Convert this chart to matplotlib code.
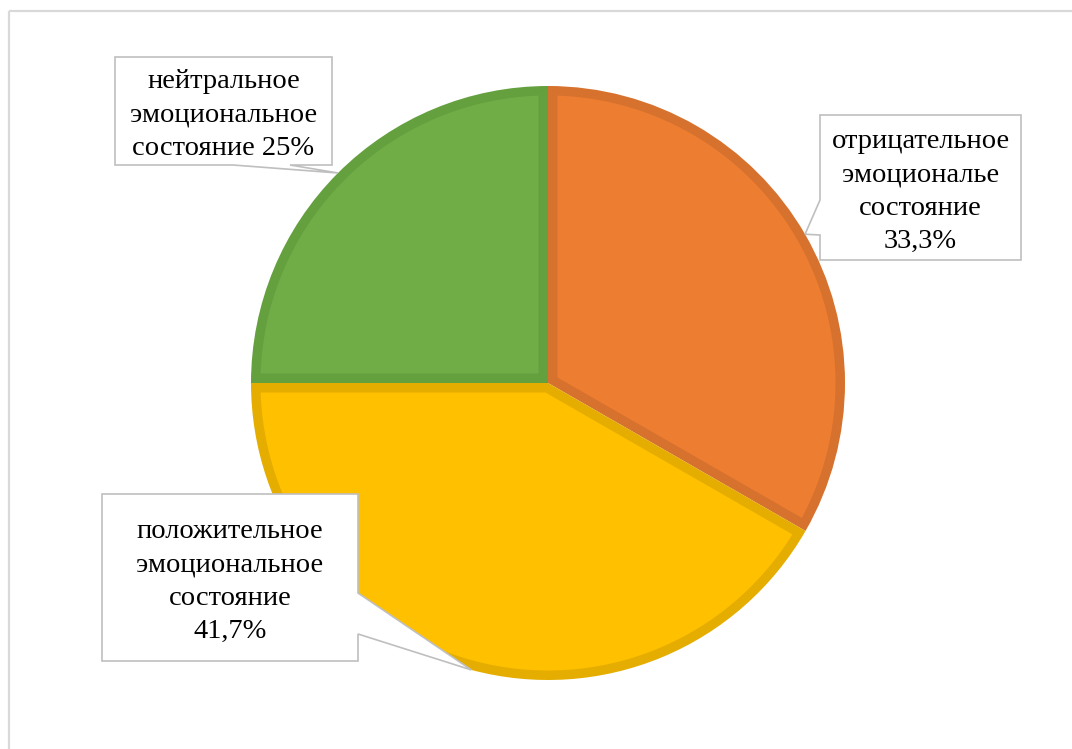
import matplotlib
matplotlib.use('Agg')
import matplotlib.pyplot as plt
import numpy as np
from matplotlib.patches import Polygon

W, H = 1072, 749

# data (clockwise from 12 o'clock)
labels = ['отрицательное\nэмоциональе\nсостояние\n33,3%',
          'положительное\nэмоциональное\nсостояние\n41,7%',
          'нейтральное\nэмоциональное\nсостояние 25%']
values = [33.3, 41.7, 25.0]
colors = ['#ED7D31', '#FFC000', '#70AD47']
edge_colors = ['#D6722E', '#E5AD00', '#65A03F']

# layout (pixel units, image y measured from top for the boxes)
cx, cy, rad = 548, H - 383, 297
border = 9.5
boxes = [
    dict(box=(820, 115, 1021, 260), side='left', base=(200, 235)),
    dict(box=(102, 494, 358, 661), side='right', base=(593, 634)),
    dict(box=(115, 57, 332, 165), side='bottom', base=(233, 290)),
]


def inset_wedge(t1, t2, d):
    # wedge shrunk by d pixels on every side (the border is drawn inside)
    t1, t2 = np.deg2rad(t1), np.deg2rad(t2)
    h = (t2 - t1) / 2
    R = rad - d
    apex = d / np.sin(h)
    u1 = np.array([np.cos(t1), np.sin(t1)])
    u2 = np.array([np.cos(t2), np.sin(t2)])
    n1 = np.array([-np.sin(t1), np.cos(t1)])
    n2 = np.array([np.sin(t2), -np.cos(t2)])
    s = np.sqrt(R ** 2 - d ** 2)
    p1 = s * u1 + d * n1
    p2 = s * u2 + d * n2
    a1 = np.arctan2(p1[1], p1[0])
    a2 = np.arctan2(p2[1], p2[0])
    if a2 < a1:
        a2 += 2 * np.pi
    arc = np.linspace(a1, a2, 200)
    xs = [apex * np.cos(t1 + h)] + list(R * np.cos(arc))
    ys = [apex * np.sin(t1 + h)] + list(R * np.sin(arc))
    return np.array(xs) + cx, np.array(ys) + cy


def callout(ax, box, side, base, tip):
    x0, y0, x1, y1 = box
    tx, ty = tip[0], H - tip[1]  # to image coords
    b0, b1 = base
    pts = [(x0, y0), (x1, y0)]
    if side == 'right':
        pts += [(x1, b0), (tx, ty), (x1, b1)]
    pts += [(x1, y1)]
    if side == 'bottom':
        pts += [(b1, y1), (tx, ty), (b0, y1)]
    pts += [(x0, y1)]
    if side == 'left':
        pts += [(x0, b1), (tx, ty), (x0, b0)]
    pts = [(x, H - y) for x, y in pts]
    ax.add_patch(Polygon(pts, closed=True, facecolor='white',
                         edgecolor='#BFBFBF', linewidth=1.2, zorder=5))


fig = plt.figure(figsize=(W / 100, H / 100), dpi=100)
ax = fig.add_axes([0, 0, 1, 1])

# full wedges in the border colour, inner fill on top
wedges, _ = ax.pie(values, colors=edge_colors, startangle=90, counterclock=False,
                   center=(cx, cy), radius=rad, wedgeprops=dict(linewidth=0))
for w, fc in zip(wedges, colors):
    xs, ys = inset_wedge(w.theta1, w.theta2, border)
    ax.fill(xs, ys, color=fc, lw=0, zorder=2)

for w, lab, b in zip(wedges, labels, boxes):
    mid = np.deg2rad((w.theta1 + w.theta2) / 2)
    tip = (cx + rad * np.cos(mid), cy + rad * np.sin(mid))
    callout(ax, b['box'], b['side'], b['base'], tip)
    x0, y0, x1, y1 = b['box']
    ax.text((x0 + x1) / 2, H - (y0 + y1) / 2 - 4, lab, ha='center', va='center',
            family=['Liberation Serif', 'DejaVu Serif'], fontsize=20.5,
            linespacing=1.43, color='black', zorder=6)

# outer chart frame
ax.plot([9, 9], [H - 11, 0], color='#D9D9D9', lw=1.6, solid_capstyle='butt')
ax.plot([9, W], [H - 11, H - 11], color='#D9D9D9', lw=1.6, solid_capstyle='butt')

ax.set_xlim(0, W)
ax.set_ylim(0, H)
ax.set_aspect('equal')
ax.axis('off')

fig.savefig('out.png', dpi=100)
